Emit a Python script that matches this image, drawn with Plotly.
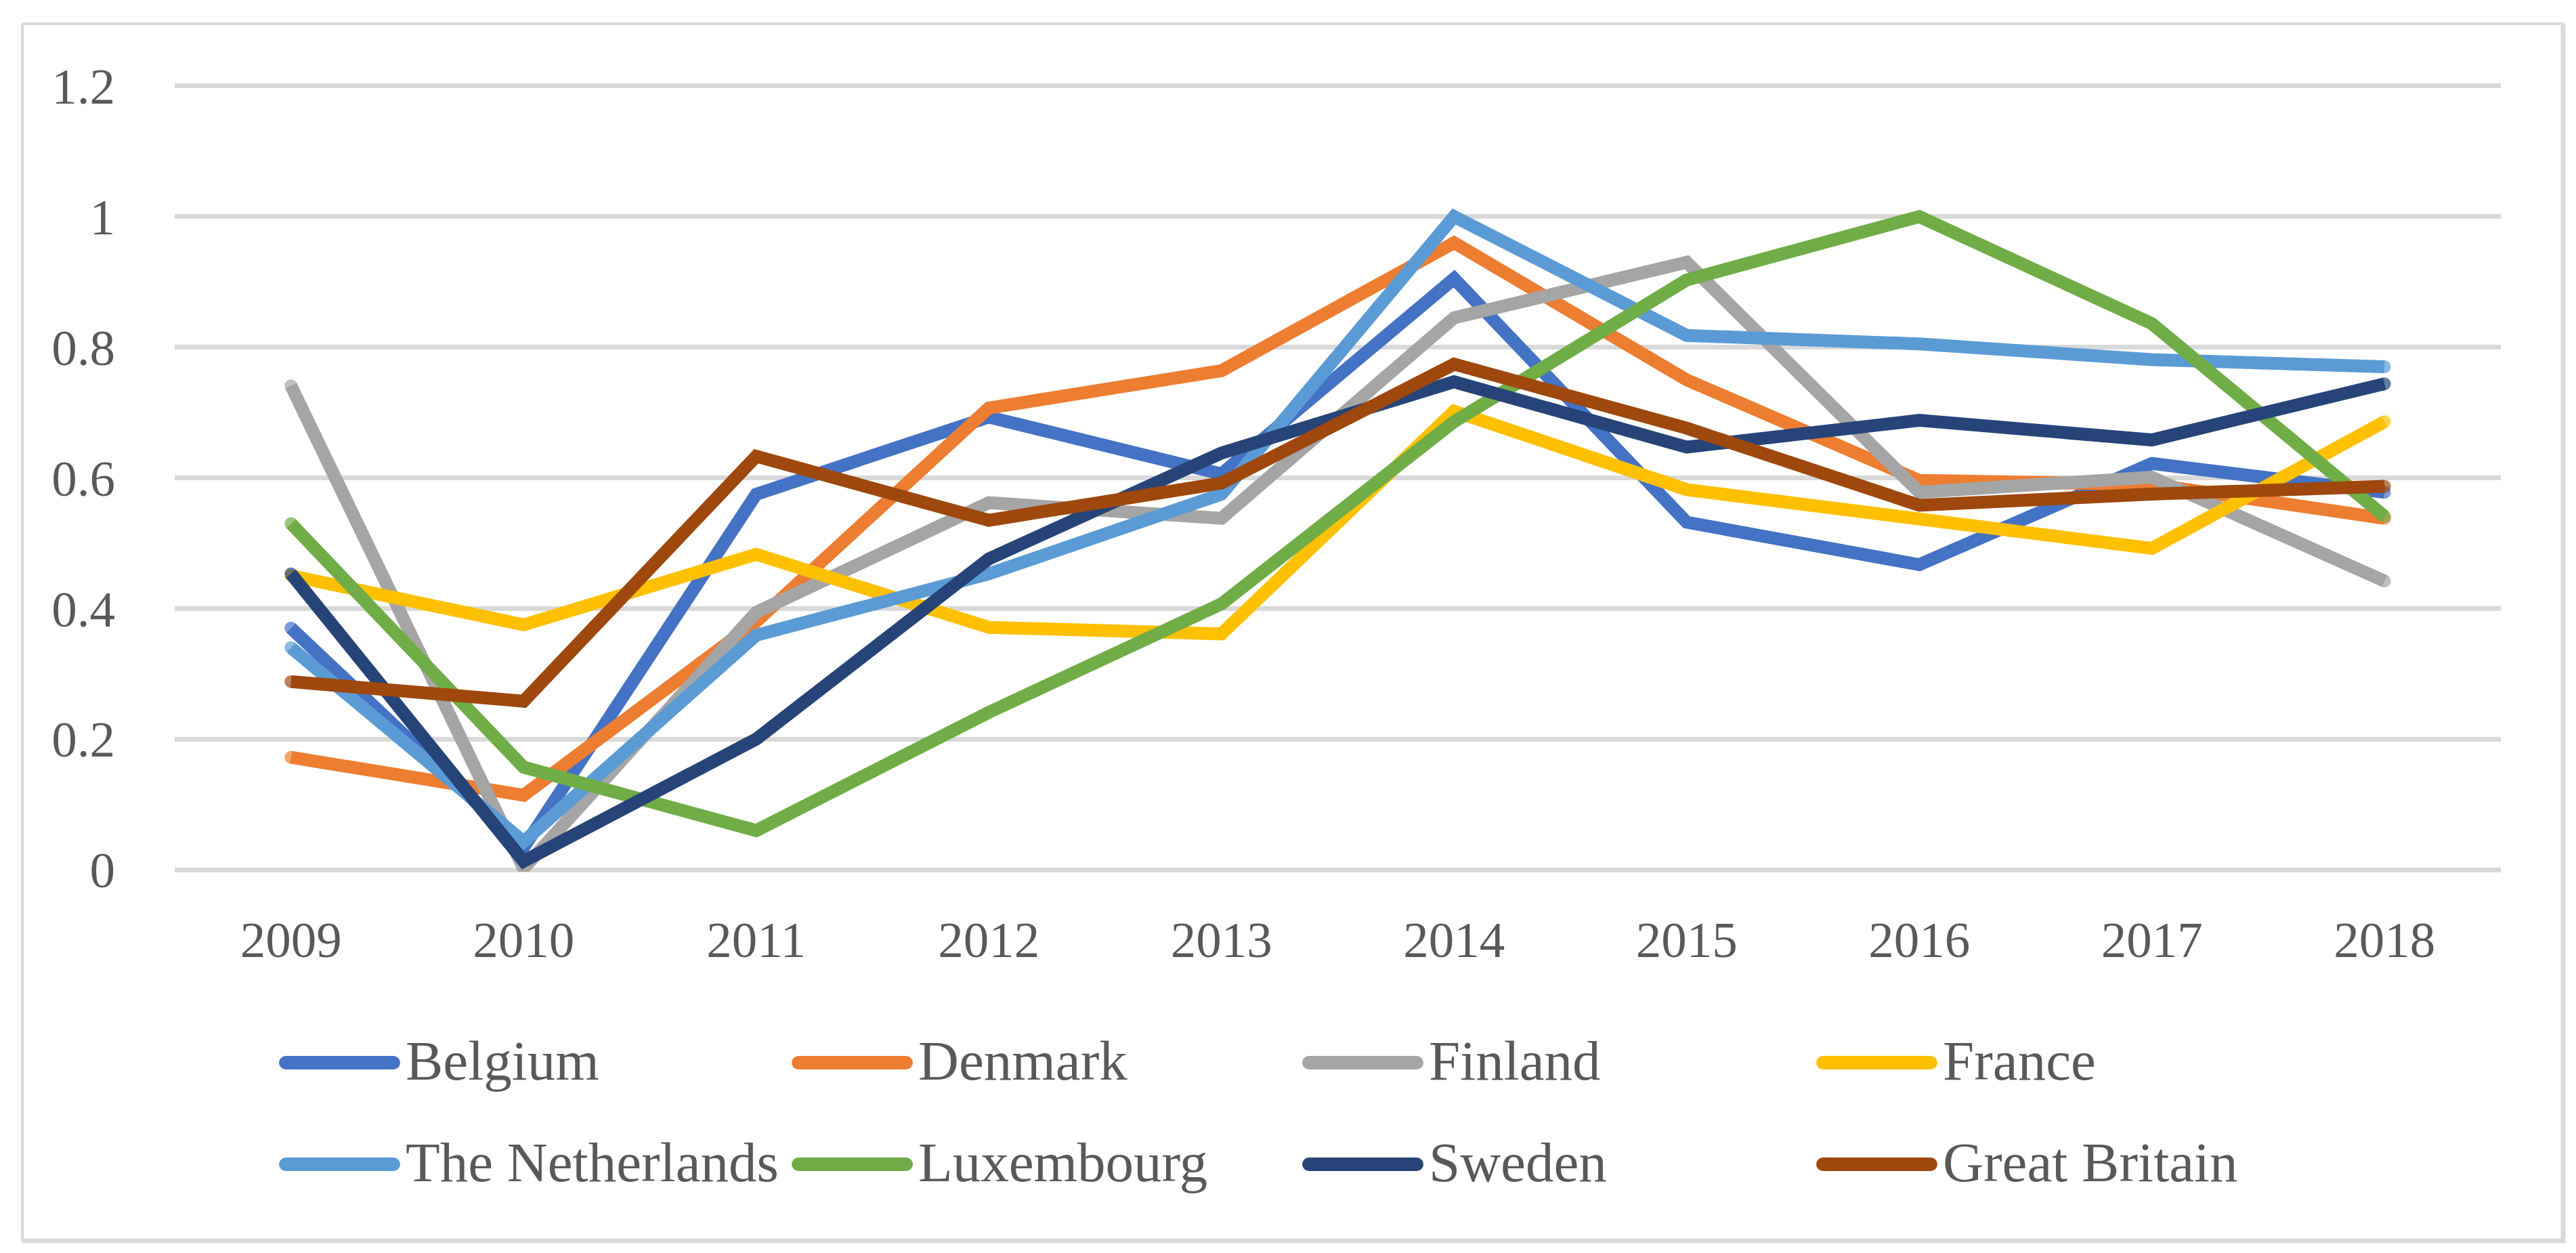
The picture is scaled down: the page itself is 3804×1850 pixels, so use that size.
import plotly.graph_objects as go

years = ["2009", "2010", "2011", "2012", "2013", "2014", "2015", "2016", "2017", "2018"]

belgium = [0.370, 0.034, 0.575, 0.693, 0.606, 0.905, 0.532, 0.467, 0.622, 0.578]
denmark = [0.172, 0.114, 0.380, 0.707, 0.764, 0.960, 0.750, 0.596, 0.590, 0.538]
finland = [0.741, 0.002, 0.394, 0.562, 0.538, 0.845, 0.930, 0.578, 0.601, 0.442]
france = [0.450, 0.375, 0.483, 0.371, 0.361, 0.702, 0.582, 0.536, 0.492, 0.686]
netherlands = [0.340, 0.043, 0.359, 0.453, 0.575, 1.000, 0.818, 0.805, 0.781, 0.770]
luxembourg = [0.530, 0.157, 0.060, 0.241, 0.407, 0.686, 0.903, 1.000, 0.836, 0.541]
sweden = [0.453, 0.013, 0.200, 0.476, 0.638, 0.747, 0.647, 0.688, 0.658, 0.744]
great_britain = [0.288, 0.258, 0.633, 0.535, 0.592, 0.774, 0.676, 0.558, 0.575, 0.587]

series_names = ["Belgium", "Denmark", "Finland", "France",
                "The Netherlands", "Luxembourg", "Sweden", "Great Britain"]
series_values = [belgium, denmark, finland, france,
                 netherlands, luxembourg, sweden, great_britain]
series_colors = ["#4472C4", "#ED7D31", "#A5A5A5", "#FFC000",
                 "#5B9BD5", "#70AD47", "#264478", "#9E480E"]

y_ticks = [0, 0.2, 0.4, 0.6, 0.8, 1.0, 1.2]
y_ticktext = ["0", "0.2", "0.4", "0.6", "0.8", "1", "1.2"]

W, H = 3804, 1850
L, R, T, B = 250, 3685, 116, 1279
FONT = "Liberation Serif"
TXT = "#595959"
LW = 19
EPS = 0.003


def px(x):
    return (x - L) / (R - L)


def py(y):
    return (B - y) / (B - T)


fig = go.Figure()
for name, vals, col in zip(series_names, series_values, series_colors):
    n = len(vals)
    sizes = [LW] + [0] * (n - 2) + [LW]
    fig.add_trace(go.Scatter(
        x=list(range(n)), y=vals, mode="lines+markers", name=name,
        line=dict(color=col, width=LW),
        marker=dict(color=col, size=sizes, line=dict(width=0)),
        showlegend=False,
    ))

shapes = []
annotations = []
# outer border (thin top/left, thicker right/bottom like the original)
bx0, bx1, by0, by1 = 25, 3777, 27, 1824
shapes.append(dict(type="line", xref="paper", yref="paper",
                   x0=px(bx0), x1=px(bx1), y0=py(by0), y1=py(by0),
                   line=dict(color="#d9d9d9", width=4)))
shapes.append(dict(type="line", xref="paper", yref="paper",
                   x0=px(bx0), x1=px(bx0), y0=py(by0), y1=py(by1),
                   line=dict(color="#d9d9d9", width=4)))
shapes.append(dict(type="line", xref="paper", yref="paper",
                   x0=px(bx1), x1=px(bx1), y0=py(by0), y1=py(by1 + 3),
                   line=dict(color="#d9d9d9", width=7)))
shapes.append(dict(type="line", xref="paper", yref="paper",
                   x0=px(bx0), x1=px(bx1 + 3), y0=py(by1), y1=py(by1),
                   line=dict(color="#d9d9d9", width=7)))

# manual legend (2 rows x 4 columns)
col_x = [404, 1161, 1915, 2674]
row_y = [1561, 1711]
sym_len = 179
rad = 10
for i, (name, col) in enumerate(zip(series_names, series_colors)):
    r, c = divmod(i, 4)
    x0 = col_x[c]
    y0 = row_y[r]
    shapes.append(dict(type="line", xref="paper", yref="paper",
                       x0=px(x0 + rad), x1=px(x0 + sym_len - rad), y0=py(y0), y1=py(y0),
                       line=dict(color=col, width=2 * rad)))
    for cx in (x0 + rad, x0 + sym_len - rad):
        shapes.append(dict(type="circle", xref="paper", yref="paper",
                           x0=px(cx - rad), x1=px(cx + rad), y0=py(y0 + rad), y1=py(y0 - rad),
                           fillcolor=col, line=dict(width=0)))
    annotations.append(dict(xref="paper", yref="paper", x=px(x0 + sym_len + 6), y=py(y0 - 3),
                            xanchor="left", yanchor="middle", showarrow=False,
                            text=name, font=dict(family=FONT, size=83, color=TXT)))

fig.update_layout(
    width=W, height=H,
    margin=dict(l=L, r=W - R, t=T, b=H - B),
    paper_bgcolor="white", plot_bgcolor="white",
    showlegend=False,
    shapes=shapes, annotations=annotations,
    xaxis=dict(
        range=[-0.5, 9.5], tickmode="array",
        tickvals=list(range(len(years))), ticktext=years,
        showgrid=False, zeroline=False, showline=False,
        ticks="outside", ticklen=35, tickcolor="rgba(0,0,0,0)",
        tickfont=dict(family=FONT, size=75, color=TXT),
    ),
    yaxis=dict(
        range=[-EPS, 1.2 + EPS], tickmode="array", tickvals=y_ticks, ticktext=y_ticktext,
        showgrid=True, gridcolor="#d9d9d9", gridwidth=7,
        zeroline=False, showline=False,
        ticks="outside", ticklen=72, tickcolor="rgba(0,0,0,0)",
        tickfont=dict(family=FONT, size=75, color=TXT),
    ),
)

fig.write_html("out.html")
